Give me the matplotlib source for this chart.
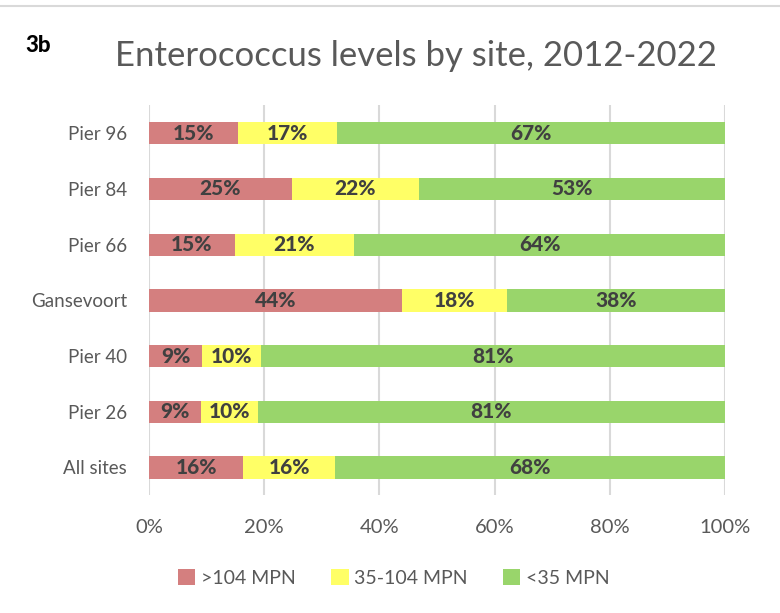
import matplotlib.pyplot as plt
import numpy as np
from matplotlib.lines import Line2D

plt.rcParams['font.family'] = ['Lato', 'DejaVu Sans']

# data, top to bottom as shown
sites = ['Pier 96', 'Pier 84', 'Pier 66', 'Gansevoort', 'Pier 40', 'Pier 26', 'All sites']
high = [15.4, 24.8, 14.9, 43.9, 9.2, 9.0, 16.4]      # >104 MPN
mid = [17.2, 22.1, 20.7, 18.3, 10.2, 9.9, 15.9]      # 35-104 MPN
low = [67.4, 53.1, 64.4, 37.8, 80.6, 81.1, 67.7]     # <35 MPN
series_names = ['>104 MPN', '35-104 MPN', '<35 MPN']
colors = ['#D47F7F', '#FFFF66', '#99D56B']
xticks = [0, 20, 40, 60, 80, 100]

fig = plt.figure(figsize=(7.8, 6.13), dpi=100)
ax = fig.add_axes([0.191, 0.192, 0.7385, 0.636])

y = np.arange(len(sites))
left = np.zeros(len(sites))
handles = []
for vals, c, name in zip([high, mid, low], colors, series_names):
    vals = np.array(vals)
    bars = ax.barh(y, vals, left=left, height=0.4, color=c, label=name, zorder=3)
    handles.append(bars)
    for yi, l, v in zip(y, left, vals):
        ax.text(l + v / 2, yi, '{:d}%'.format(int(round(v))), ha='center', va='center',
                fontsize=15, fontweight='black', color='#404040', zorder=4)
    left = left + vals

ax.set_ylim(len(sites) - 0.5, -0.5)
ax.set_xlim(0, 100)
ax.set_yticks(y)
ax.set_yticklabels(sites, fontsize=13.5, color='#595959')
ax.set_xticks(xticks)
ax.set_xticklabels(['{}%'.format(t) for t in xticks], fontsize=14.5, color='#595959')
ax.tick_params(axis='y', length=0, pad=16)
ax.tick_params(axis='x', length=0, pad=17)
ax.grid(axis='x', color='#D9D9D9', linewidth=1.5, zorder=0)
for s in ax.spines.values():
    s.set_visible(False)

fig.text(0.533, 0.908, 'Enterococcus levels by site, 2012-2022', ha='center', va='center',
         fontsize=25, color='#595959')
fig.text(0.032, 0.925, '3b', ha='left', va='center', fontsize=16, fontweight='black', color='black')
fig.add_artist(Line2D([0, 1], [0.99, 0.99], color='#D9D9D9', linewidth=1.5))

fig.legend(handles=handles, labels=series_names, loc='center', bbox_to_anchor=(0.505, 0.057),
           ncol=3, frameon=False, fontsize=14, handlelength=0.9, handleheight=0.9,
           columnspacing=1.8, handletextpad=0.3, labelcolor='#595959')

fig.savefig('out.png', dpi=100)
